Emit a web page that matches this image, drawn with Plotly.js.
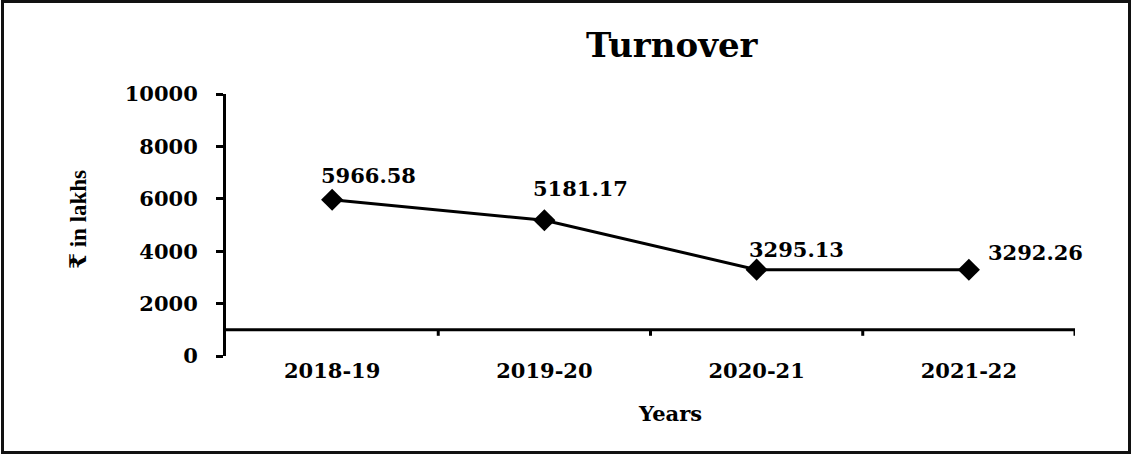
<!DOCTYPE html>
<html>
<head>
<meta charset="utf-8">
<script src="https://cdn.plot.ly/plotly-3.0.1.min.js"></script>
<style>
html,body{margin:0;padding:0;background:#fff;}
#wrap{position:relative;width:1132px;height:455px;}
#chart{position:absolute;left:0;top:0;width:1132px;height:455px;}
#frame{position:absolute;left:1px;top:0px;width:1130px;height:454px;border:3px solid #111;box-sizing:border-box;pointer-events:none;}
</style>
</head>
<body>
<div id="wrap"><div id="chart"></div><div id="frame"></div></div>
<script>
// Data
const years = ["2018-19", "2019-20", "2020-21", "2021-22"];
const turnover = [5966.58, 5181.17, 3295.13, 3292.26];
const yTicks = [0, 2000, 4000, 6000, 8000, 10000];

const FONT = "DejaVu Serif, Liberation Serif, Times New Roman, serif";
const labelShiftX = [36, 36, 40, 67];
const labelShiftY = [24, 32, 20, 17];

const trace = {
  x: years,
  y: turnover,
  type: "scatter",
  mode: "lines+markers",
  line: {color: "#000", width: 3},
  marker: {symbol: "diamond", size: 17, color: "#000"},
  hoverinfo: "skip"
};

const annotations = years.map((yr, i) => ({
  x: yr, y: turnover[i], xref: "x", yref: "y",
  text: turnover[i].toFixed(2),
  showarrow: false,
  xshift: labelShiftX[i], yshift: labelShiftY[i],
  font: {family: FONT, size: 21, color: "#000", weight: "bold"}
}));
annotations.push({
  xref: "paper", yref: "paper", x: -0.174, y: 0.52, xanchor: "center", yanchor: "middle",
  text: "₹ in lakhs", textangle: -90, showarrow: false,
  font: {family: "Liberation Serif, DejaVu Serif, serif", size: 23, color: "#000", weight: "bold"}
});
annotations.push({
  xref: "paper", yref: "paper", x: 0.523, y: -0.218, xanchor: "center", yanchor: "middle",
  text: "Years", showarrow: false,
  font: {family: FONT, size: 21, color: "#000", weight: "bold"}
});

const shapes = [{
  type: "line", xref: "paper", yref: "y", x0: 0, x1: 1, y0: 1000, y1: 1000,
  line: {color: "#000", width: 3}
}];
years.forEach((yr, i) => {
  shapes.push({
    type: "line", xref: "x", yref: "y", ysizemode: "pixel", yanchor: 1000,
    x0: i + 0.5, x1: i + 0.5, y0: 0, y1: -6,
    line: {color: "#000", width: 3}
  });
});

const layout = {
  width: 1132, height: 455,
  margin: {l: 226, r: 57, t: 94, b: 99},
  paper_bgcolor: "#fff", plot_bgcolor: "#fff",
  showlegend: false,
  title: {
    text: "Turnover", x: 0.525, xref: "paper", y: 0.9, yref: "container", yanchor: "middle",
    font: {family: FONT, size: 34, color: "#000", weight: "bold"}
  },
  xaxis: {
    type: "category", range: [-0.5, 3.5],
    showline: false, showgrid: false, zeroline: false, ticks: "",
    tickfont: {family: FONT, size: 21, color: "#000", weight: "bold"}
  },
  yaxis: {
    range: [0, 10000], tickvals: yTicks, ticktext: yTicks.map(String),
    showline: true, linecolor: "#000", linewidth: 3,
    ticks: "outside", ticklen: 7, tickwidth: 3, tickcolor: "#000",
    ticklabelstandoff: 14,
    showgrid: false, zeroline: false,
    tickfont: {family: FONT, size: 21, color: "#000", weight: "bold"}
  },
  shapes: shapes,
  annotations: annotations
};

Plotly.newPlot("chart", [trace], layout, {staticPlot: true, displayModeBar: false});
</script>
</body>
</html>
